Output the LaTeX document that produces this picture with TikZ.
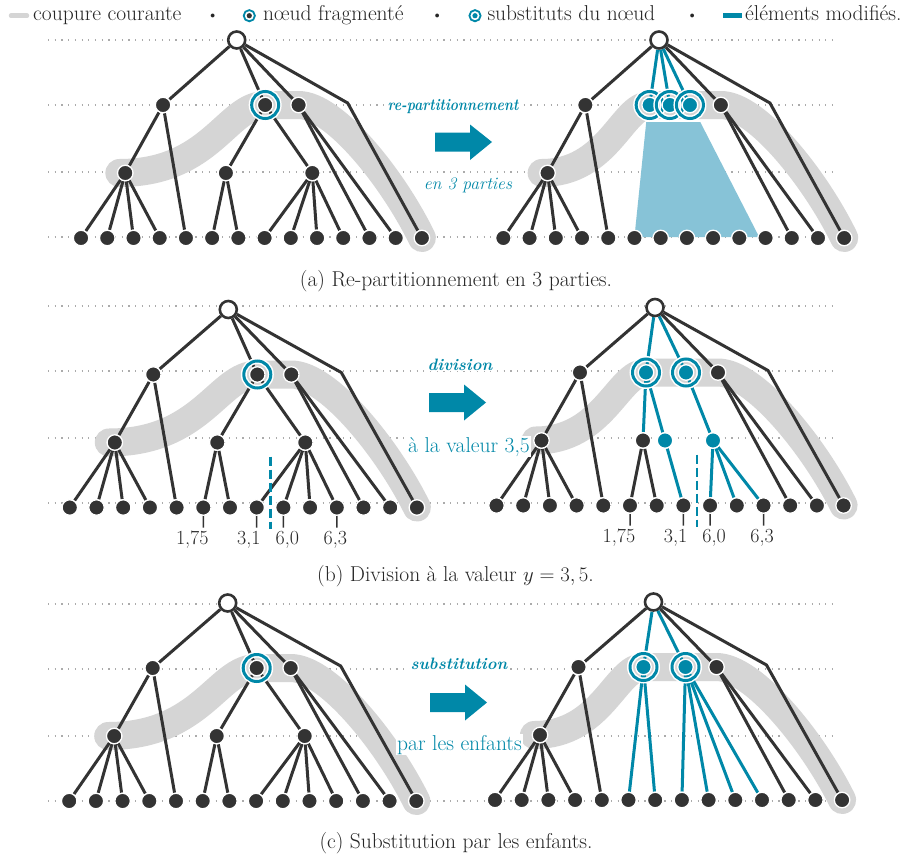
\documentclass[tikz,border=0pt]{standalone}
\usepackage{fontspec}
\definecolor{dk}{HTML}{333333}
\definecolor{tl}{HTML}{0088A8}
\definecolor{lb}{HTML}{87C3D7}
\definecolor{gb}{HTML}{D5D5D5}
\definecolor{dg}{HTML}{ABABAB}
\definecolor{tx}{HTML}{262626}
\pgfdeclarelayer{bg}
\pgfdeclarelayer{mid}
\pgfsetlayers{bg,mid,main}
\tikzset{
  dot/.style={circle,fill=dk,draw=white,line width=1.3pt,minimum size=15.5pt,inner sep=0pt},
  bdot/.style={dot,fill=tl},
  rootst/.style={circle,fill=white,draw=dk,line width=2.6pt,minimum size=17pt,inner sep=0pt},
  ringst/.style={circle,draw=white,line width=1.5pt,double=tl,double distance=3pt,minimum size=27pt,inner sep=0pt},
  edge/.style={draw=dk,line width=3pt},
  bedge/.style={draw=tl,line width=3pt},
  band/.style={draw=gb,line width=28pt,line cap=round,line join=round},
  gridln/.style={draw=dg,line width=1.2pt,dash pattern=on 1.2pt off 5.5pt},
  tickln/.style={draw=dk,line width=1.5pt},
  dashln/.style={draw=tl,line width=2.8pt,dash pattern=on 9pt off 4pt},
  txt/.style={font=\fontsize{21.5}{24}\selectfont,text=tx,inner sep=0pt},
  num/.style={font=\fontsize{20}{22}\selectfont,text=tx,inner sep=0pt,anchor=base},
  bit/.style={font=\fontsize{16.5}{19}\selectfont\bfseries\itshape,text=tl,fill=white,inner sep=1pt,anchor=base},
  itl/.style={font=\fontsize{17.5}{20}\selectfont\itshape,text=tl,fill=white,inner sep=1pt,anchor=base},
  upl/.style={font=\fontsize{21.5}{24}\selectfont,text=tl,fill=white,inner sep=1pt,anchor=base},
  bul/.style={font=\fontsize{17}{19}\selectfont,text=tx,inner sep=0pt,anchor=base},
}
\newcommand\leavesrow[1]{\foreach \i in {1,...,14}{\node[dot] (#1L\i) at ({-158.5+(\i-1)*26.7},198) {};}}
% #1 prefix, #2 node where band reaches level 1, #3 #4 control lengths
\newcommand\bandpath[4]{\begin{pgfonlayer}{bg}\draw[band] ([xshift=-6pt]#1D.center) .. controls +(#3,0) and +(-#4,0) .. (#2.center) -- (#1C.center) .. controls +(37,0) and +(-28.6,-58) .. (#1L14.center);\end{pgfonlayer}}
\newcommand\gridrows[1]{\begin{pgfonlayer}{bg}\foreach \dy in {0,65,132,197}{\draw[gridln] (48,#1+\dy) -- (838,#1+\dy);}\end{pgfonlayer}}
\newcommand\treeLeft[1]{%
  \node[rootst] (#1r) at (0,0) {};
  \node[dot] (#1A) at (-75,65) {};
  \node[ringst] (#1Bo) at (29,65) {};
  \node[dot] (#1B) at (29,65) {};
  \node[dot] (#1C) at (63,65) {};
  \coordinate (#1k) at (113,63);
  \node[dot] (#1D) at (-113.5,133) {};
  \node[dot] (#1E) at (-11,133) {};
  \node[dot] (#1F) at (77,133) {};
  \leavesrow{#1}
  \bandpath{#1}{#1B}{93.5}{39}
  \begin{pgfonlayer}{mid}
    \draw[edge] (#1r) -- (#1A);
    \draw[edge] (#1r) -- (#1B);
    \draw[edge] (#1r) -- (#1C);
    \draw[edge] (#1r) -- (#1k) -- (#1L14);
    \draw[edge] (#1A) -- (#1D);
    \draw[edge] (#1A) -- (#1L5);
    \draw[edge] (#1B) -- (#1E);
    \draw[edge] (#1B) -- (#1F);
    \draw[edge] (#1C) -- (#1L12);
    \draw[edge] (#1C) -- (#1L13);
    \foreach \j in {1,...,4}{\draw[edge] (#1D) -- (#1L\j);}
    \draw[edge] (#1E) -- (#1L6);
    \draw[edge] (#1E) -- (#1L7);
    \foreach \j in {8,...,11}{\draw[edge] (#1F) -- (#1L\j);}
  \end{pgfonlayer}}
\newcommand\treeRightBase[1]{%
  \node[rootst] (#1r) at (0,0) {};
  \node[dot] (#1A) at (-75,65) {};
  \node[dot] (#1C) at (63,65) {};
  \coordinate (#1k) at (113,63);
  \node[dot] (#1D) at (-113.5,133) {};
  \leavesrow{#1}
  \begin{pgfonlayer}{mid}
    \draw[edge] (#1r) -- (#1A);
    \draw[edge] (#1r) -- (#1C);
    \draw[edge] (#1r) -- (#1k) -- (#1L14);
    \draw[edge] (#1A) -- (#1D);
    \draw[edge] (#1A) -- (#1L5);
    \draw[edge] (#1C) -- (#1L12);
    \draw[edge] (#1C) -- (#1L13);
    \foreach \j in {1,...,4}{\draw[edge] (#1D) -- (#1L\j);}
  \end{pgfonlayer}}
\newcommand\subst[3]{\node[ringst] (#1o) at (#2,#3) {};\node[bdot] (#1) at (#2,#3) {};}
\newcommand\cutmarks[1]{%
  \coordinate (#1t6) at (-25,218);
  \coordinate (#1t8) at (28.4,218);
  \coordinate (#1t9) at (55.1,218);
  \coordinate (#1t11) at (108.5,218);
  \begin{pgfonlayer}{mid}
    \draw[tickln] (#1L6.center) -- (#1t6);
    \draw[tickln] (#1L8.center) -- (#1t8);
    \draw[tickln] (#1L9.center) -- (#1t9);
    \draw[tickln] (#1L11.center) -- (#1t11);
  \end{pgfonlayer}
  \node[num] (#1n6) at (-36,234.5) {1,75};
  \node[num] (#1n8) at (20.5,234.5) {3,1};
  \node[num] (#1n9) at (59,234.5) {6,0};
  \node[num] (#1n11) at (107,234.5) {6,3};
  \coordinate (#1da) at (42,147);
  \coordinate (#1db) at (42,219);
  \draw[dashln] (#1da) -- (#1db);}
\begin{document}
\begin{tikzpicture}[x=1pt,y=-1pt]
\useasboundingbox (0,0) rectangle (912,859);
\begin{pgfonlayer}{bg}\fill[white] (0,0) rectangle (912,859);\end{pgfonlayer}

% legend
\draw[draw=gb,line width=4.5pt,line cap=round] (11,15.7) -- (27,15.7);
\node[txt,anchor=base west] (lg1) at (33,21) {coupure courante};
\node[bul] (bu1) at (212.7,20.5) {\textbullet};
\draw[tl,line width=1.8pt] (249.3,15.7) circle (5.6);
\fill[dk] (249.3,15.7) circle (2.6);
\node[txt,anchor=base west] (lg2) at (263,21) {nœud fragmenté};
\node[bul] (bu2) at (437.3,20.5) {\textbullet};
\draw[tl,line width=1.8pt] (475,15.7) circle (5.6);
\fill[tl] (475,15.7) circle (2.6);
\node[txt,anchor=base west] (lg3) at (487.3,21) {substituts du nœud};
\node[bul] (bu3) at (692.3,20.5) {\textbullet};
\draw[draw=tl,line width=4.5pt] (723,15.3) -- (742,15.3);
\node[txt,anchor=base west] (lg4) at (745,21) {éléments modifiés.};

% ===== panel (a)
\gridrows{40}
\begin{scope}[shift={(236.7,40)},xscale=0.982]
  \treeLeft{aL}
\end{scope}
\begin{scope}[shift={(659,40)},xscale=0.982]
  \treeRightBase{aR}
  \subst{aRS1}{-9.5}{65}
  \subst{aRS2}{11}{65}
  \subst{aRS3}{31.5}{65}
  \bandpath{aR}{aRS1}{68}{28}
  \begin{pgfonlayer}{bg}\fill[lb] (-13,82) -- (42,82) -- (102,197) -- (-25,197) -- cycle;\end{pgfonlayer}
  \begin{pgfonlayer}{mid}
    \draw[bedge] (aRr) -- (aRS1);
    \draw[bedge] (aRr) -- (aRS2);
    \draw[bedge] (aRr) -- (aRS3);
  \end{pgfonlayer}
\end{scope}
\node[bit] (ta1) at (453,110.5) {\scalebox{0.84}[1]{re-partitionnement}};
\fill[tl] (435,132.5) -- (470,132.5) -- (470,124.5) -- (492,142) -- (470,160) -- (470,151.5) -- (435,151.5) -- cycle;
\node[itl] (ta2) at (468,189) {en 3 parties};
\node[txt,anchor=base] (capa) at (456,286) {(a) Re-partitionnement en 3 parties.};

% ===== panel (b)
\gridrows{306}
\begin{scope}[shift={(228.3,309.5)}]
  \treeLeft{bL}
  \cutmarks{bL}
\end{scope}
\begin{scope}[shift={(655,307.5)}]
  \treeRightBase{bR}
  \subst{bRS1}{-9}{65}
  \subst{bRS2}{31}{65}
  \node[dot] (bRE) at (-12,133) {};
  \node[bdot] (bRP) at (10,133) {};
  \node[bdot] (bRQ) at (58,133) {};
  \bandpath{bR}{bRS1}{68}{28}
  \begin{pgfonlayer}{mid}
    \draw[bedge] (bRr) -- (bRS1);
    \draw[bedge] (bRr) -- (bRS2);
    \draw[bedge] (bRS1) -- (bRE);
    \draw[bedge] (bRS1) -- (bRP);
    \draw[bedge] (bRP) -- (bRL8);
    \draw[bedge] (bRS2) -- (bRQ);
    \draw[bedge] (bRQ) -- (bRL9);
    \draw[bedge] (bRQ) -- (bRL10);
    \draw[bedge] (bRQ) -- (bRL11);
    \draw[edge] (bRE) -- (bRL6);
    \draw[edge] (bRE) -- (bRL7);
  \end{pgfonlayer}
  \cutmarks{bR}
\end{scope}
\node[bit] (tb1) at (460,370) {division};
\fill[tl] (429,393) -- (464,393) -- (464,384.5) -- (486,402.5) -- (464,420.5) -- (464,412) -- (429,412) -- cycle;
\node[upl] (tb2) at (469,452) {à la valeur 3,5};
\node[txt,anchor=base] (capb) at (455.5,581) {(b) Division à la valeur $y = 3, 5$.};

% ===== panel (c)
\gridrows{604}
\begin{scope}[shift={(227.7,603)}]
  \treeLeft{cL}
\end{scope}
\begin{scope}[shift={(653.5,602)}]
  \treeRightBase{cR}
  \subst{cRS1}{-10}{65}
  \subst{cRS2}{32}{65}
  \bandpath{cR}{cRS1}{68}{28}
  \begin{pgfonlayer}{mid}
    \draw[bedge] (cRr) -- (cRS1);
    \draw[bedge] (cRr) -- (cRS2);
    \draw[bedge] (cRS1) -- (cRL6);
    \draw[bedge] (cRS1) -- (cRL7);
    \foreach \j in {8,...,11}{\draw[bedge] (cRS2) -- (cRL\j);}
  \end{pgfonlayer}
\end{scope}
\node[bit] (tc1) at (459,669) {substitution};
\fill[tl] (430,693) -- (465,693) -- (465,684.5) -- (487,702.5) -- (465,720.5) -- (465,712) -- (430,712) -- cycle;
\node[upl] (tc2) at (459.5,750) {par les enfants};
\node[txt,anchor=base] (capc) at (456,848) {(c) Substitution par les enfants.};
\end{tikzpicture}
\end{document}
